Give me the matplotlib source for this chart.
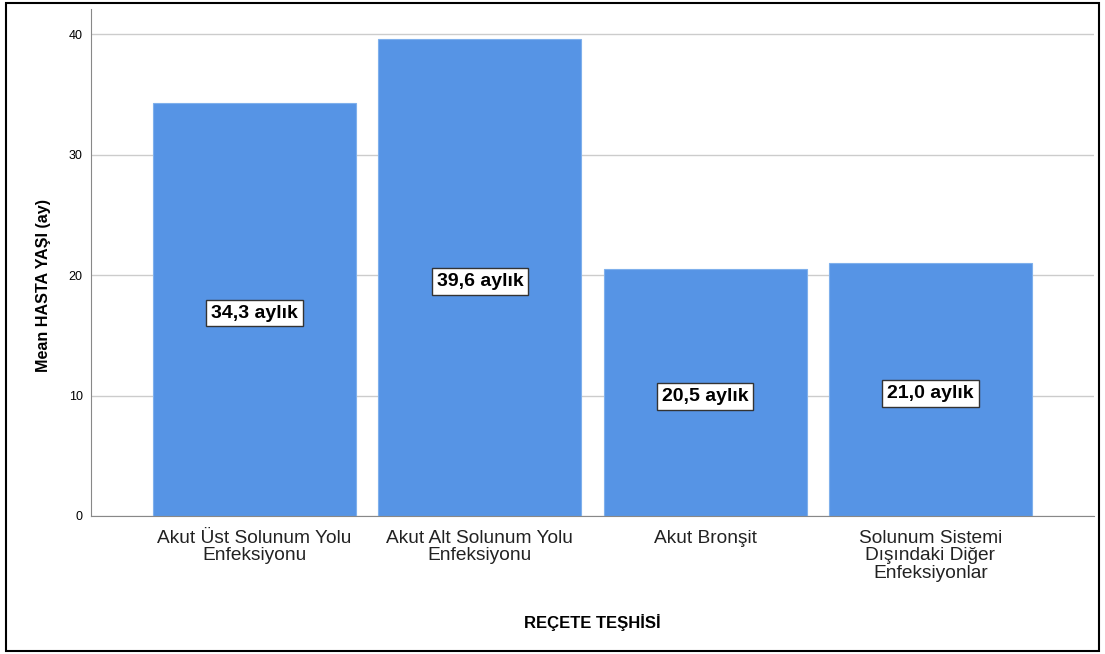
import matplotlib.pyplot as plt
import numpy as np
from matplotlib.patches import Rectangle

plt.rcParams['font.family'] = ['Liberation Sans', 'DejaVu Sans']

categories = ['Akut Üst Solunum Yolu\nEnfeksiyonu',
              'Akut Alt Solunum Yolu\nEnfeksiyonu',
              'Akut Bronşit',
              'Solunum Sistemi\nDışındaki Diğer\nEnfeksiyonlar']
mean_age = [34.3, 39.6, 20.5, 21.0]
bar_labels = ['34,3 aylık', '39,6 aylık', '20,5 aylık', '21,0 aylık']

fig = plt.figure(figsize=(11.05, 6.54), dpi=100)
ax = fig.add_axes([91 / 1105, 138 / 654, (1094 - 91) / 1105, (516 - 9) / 654])

x = np.arange(len(categories))
bars = ax.bar(x, mean_age, width=0.9, color='#5694E5', edgecolor='#7FB0EC',
              linewidth=0.8, zorder=2)

for xi, v, lab in zip(x, mean_age, bar_labels):
    ax.text(xi, v / 2 - 0.3, lab, ha='center', va='center', fontsize=14,
            fontweight='bold', color='black', zorder=3,
            bbox=dict(boxstyle='square,pad=0.25', facecolor='white',
                      edgecolor='#333333', linewidth=1))

ax.set_xlim(-0.726, 3.726)
ax.set_ylim(0, 42.1)
ax.set_yticks([0, 10, 20, 30, 40])
ax.set_xticks(x)
ax.set_xticklabels(categories, fontsize=13.8, color='#222222', linespacing=1.03)
ax.tick_params(axis='y', length=0, labelsize=9, pad=6)
ax.tick_params(axis='x', length=0, pad=10)
ax.grid(axis='y', color='#cccccc', linewidth=1, zorder=0)
ax.set_axisbelow(True)

for s in ['top', 'right']:
    ax.spines[s].set_visible(False)
ax.spines['left'].set_color('#888888')
ax.spines['bottom'].set_color('#888888')

ax.set_ylabel('Mean HASTA YAŞI (ay)', fontsize=11.6, fontweight='bold')
ax.yaxis.set_label_coords(-0.040, 0.454)
ax.set_xlabel('REÇETE TEŞHİSİ', fontsize=12, fontweight='bold', labelpad=23)

# outer frame
fig.patches.append(Rectangle((6 / 1105, 3 / 654), 1093 / 1105, 648 / 654,
                             transform=fig.transFigure, fill=False,
                             edgecolor='black', linewidth=1.5))

plt.savefig('out.png')
